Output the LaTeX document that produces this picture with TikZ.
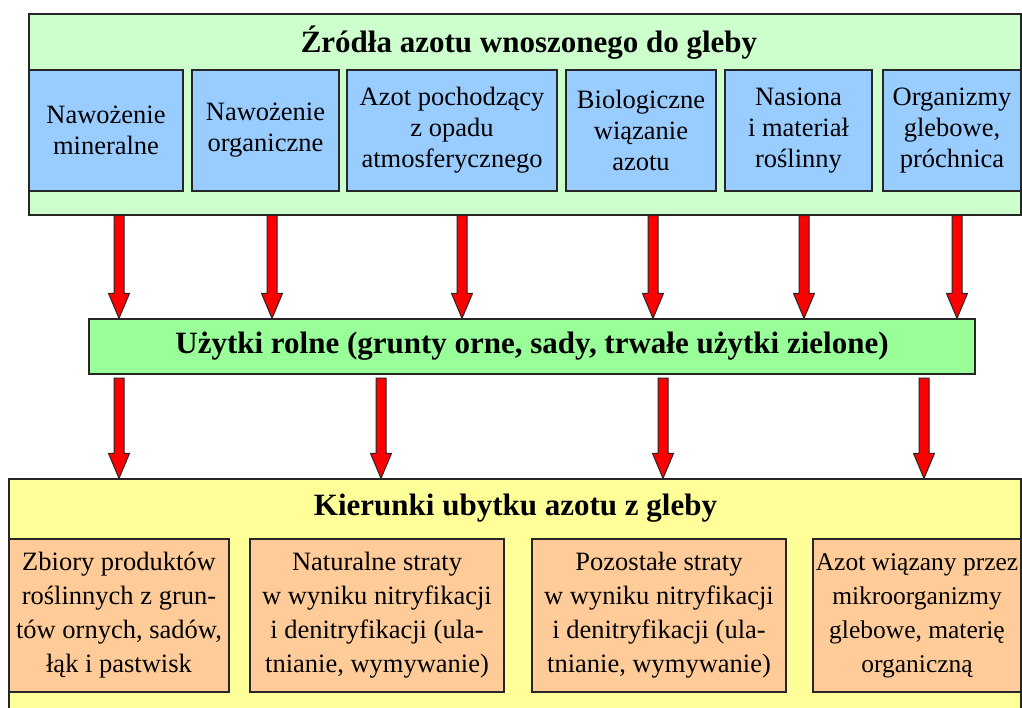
\documentclass[tikz,border=0pt]{standalone}
\usepackage{fontspec}
\setmainfont{Liberation Serif}
\usetikzlibrary{calc}

\definecolor{srcgreen}{HTML}{CCFFCC}
\definecolor{srcblue}{HTML}{99CCFF}
\definecolor{landgreen}{HTML}{99FF99}
\definecolor{lossyellow}{HTML}{FFFF99}
\definecolor{lossorange}{HTML}{FFCC99}

% block arrow from #1 down to #2
\newcommand{\fatarrow}[2]{%
	\draw[fill=red, draw=black!85, line width=1pt] let \p1=(#1), \p2=(#2) in
		(\x1-5pt,\y1) -- (\x1+5pt,\y1) -- (\x1+5pt,\y2+25pt) -- (\x1+10.5pt,\y2+25pt)
		-- (\x1,\y2) -- (\x1-10.5pt,\y2+25pt) -- (\x1-5pt,\y2+25pt) -- cycle;}

\begin{document}
\begin{tikzpicture}[x=1pt,y=-1pt]
	\tikzstyle{Box} = [rectangle, inner sep=0pt, draw=black!85, line width=1.2pt, align=center, font=\fontsize{26.5}{31}\selectfont]
	\tikzstyle{Title} = [inner sep=0pt, font=\fontsize{31}{36}\selectfont\bfseries]
	\tikzstyle{Src} = [Box, fill=srcblue, minimum height=121pt]
	\tikzstyle{Loss} = [Box, fill=lossorange, minimum height=153pt, font=\fontsize{26.5}{34}\selectfont]

	\useasboundingbox (0,0) rectangle (1022,707);

	% sources
	\node (top) [Box, fill=srcgreen, minimum width=992pt, minimum height=201pt] at (525,114.5) {};
	\node (toptitle) [Title] at (529,43) {Źródła azotu wnoszonego do gleby};
	\node (s1) [Src, minimum width=154pt] at (106,130.5) {Nawożenie\\mineralne};
	\node (s2) [Src, minimum width=147pt] at (265.5,130.5) {Nawożenie\\organiczne};
	\node (s3) [Src, minimum width=210pt] at (452,130.5) {Azot pochodzący\\z opadu\\atmosferycznego};
	\node (s4) [Src, minimum width=150pt] at (641,130.5) {Biologiczne\\wiązanie\\azotu};
	\node (s5) [Src, minimum width=147pt] at (798.5,130.5) {Nasiona\\i materiał\\roślinny};
	\node (s6) [Src, minimum width=138pt] at (952,130.5) {Organizmy\\glebowe,\\próchnica};

	% farmland
	\node (mid) [Box, fill=landgreen, minimum width=886pt, minimum height=55pt, font=\fontsize{31}{36}\selectfont\bfseries] at (532,346.5) {Użytki rolne (grunty orne, sady, trwałe użytki zielone)};

	% losses
	\node (bot) [Box, fill=lossyellow, minimum width=1012pt, minimum height=242pt] at (515,600) {};
	\node (bottitle) [Title] at (515.5,508) {Kierunki ubytku azotu z gleby};
	\node (l1) [Loss, minimum width=220pt] at (119,615.5) {Zbiory produktów\\roślinnych z grun-\\tów ornych, sadów,\\łąk i pastwisk};
	\node (l2) [Loss, minimum width=254pt] at (377,615.5) {Naturalne straty\\w wyniku nitryfikacji\\i denitryfikacji (ula-\\tnianie, wymywanie)};
	\node (l3) [Loss, minimum width=254pt] at (659,615.5) {Pozostałe straty\\w wyniku nitryfikacji\\i denitryfikacji (ula-\\tnianie, wymywanie)};
	\node (l4) [Loss, minimum width=208pt, font=\fontsize{25.5}{34}\selectfont] at (917,615.5) {Azot wiązany przez\\mikroorganizmy\\glebowe, materię\\organiczną};

	% arrows
	\foreach \i/\px in {1/119, 2/272, 3/462, 4/653, 5/804, 6/957} {
		\coordinate (t\i) at (\px,0 |- top.south);
		\fatarrow{t\i}{t\i |- mid.north}
	}
	\foreach \i/\px in {1/119, 2/381, 3/663, 4/924} {
		\coordinate (b\i) at (\px,378);
		\fatarrow{b\i}{b\i |- bot.north}
	}
\end{tikzpicture}
\end{document}
